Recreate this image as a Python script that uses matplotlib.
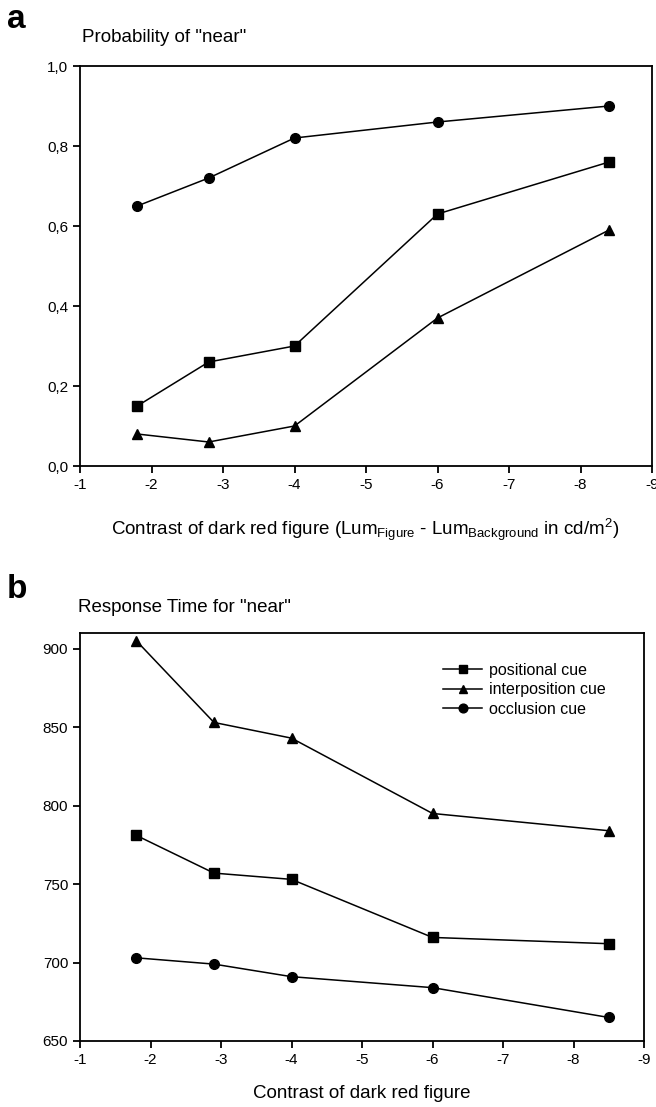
import matplotlib
matplotlib.use('Agg')
import matplotlib.pyplot as plt
import matplotlib.ticker as mtick

plt.rcParams['font.family'] = ['Liberation Sans', 'DejaVu Sans']
plt.rcParams['mathtext.fontset'] = 'custom'
plt.rcParams['mathtext.rm'] = 'Liberation Sans'
plt.rcParams['mathtext.it'] = 'Liberation Sans'
plt.rcParams['axes.unicode_minus'] = False

# Data - panel a (probability of "near")
contrast_a = [-1.8, -2.8, -4.0, -6.0, -8.4]
prob_positional = [0.15, 0.26, 0.30, 0.63, 0.76]
prob_interposition = [0.08, 0.06, 0.10, 0.37, 0.59]
prob_occlusion = [0.65, 0.72, 0.82, 0.86, 0.90]

# Data - panel b (response time)
contrast_b = [-1.8, -2.9, -4.0, -6.0, -8.5]
rt_positional = [781, 757, 753, 716, 712]
rt_interposition = [905, 853, 843, 795, 784]
rt_occlusion = [703, 699, 691, 684, 665]

labels = ['positional cue', 'interposition cue', 'occlusion cue']
markers = ['s', '^', 'o']

W, H = 656, 1107
fig = plt.figure(figsize=(W / 100, H / 100), dpi=100)

def px_axes(left, top, right, bottom):
    return fig.add_axes([left / W, 1 - bottom / H, (right - left) / W, (bottom - top) / H])

def style(ax):
    for s in ax.spines.values():
        s.set_linewidth(1.3)
    ax.tick_params(direction='out', length=5, width=1.3, labelsize=11,
                   top=False, right=False)
    ax.set_xlim(-1, -9)
    ax.set_xticks(range(-1, -10, -1))

line_kw = dict(color='black', lw=1.1, markersize=7)

# Panel a
ax1 = px_axes(80, 66, 652, 466)
for y, m in zip([prob_positional, prob_interposition, prob_occlusion], markers):
    ax1.plot(contrast_a, y, marker=m, clip_on=False, **line_kw)
ax1.set_ylim(0, 1.0)
ax1.set_yticks([0, 0.2, 0.4, 0.6, 0.8, 1.0])
ax1.yaxis.set_major_formatter(mtick.FuncFormatter(lambda v, p: f'{v:.1f}'.replace('.', ',')))
style(ax1)

# Panel b
ax2 = px_axes(80, 633, 644, 1041)
for y, m, lab in zip([rt_positional, rt_interposition, rt_occlusion], markers, labels):
    ax2.plot(contrast_b, y, marker=m, label=lab, clip_on=False, **line_kw)
ax2.set_ylim(650, 910)
ax2.set_yticks([650, 700, 750, 800, 850, 900])
style(ax2)
fig.legend(*ax2.get_legend_handles_labels(), loc='upper left',
           bbox_to_anchor=(443 / W, 1 - 663 / H), bbox_transform=fig.transFigure,
           frameon=False, fontsize=11.5, borderpad=0, borderaxespad=0,
           handlelength=2.45, handletextpad=0.4, labelspacing=0.28, markerscale=0.9)

# Axis labels, panel letters and titles
fig.text(365 / W, 1 - 530 / H,
         'Contrast of dark red figure (Lum$_{\\mathrm{Figure}}$ - Lum$_{\\mathrm{Background}}$ in cd/m$^{2}$)',
         fontsize=13.5, va='center', ha='center')
fig.text(362 / W, 1 - 1094 / H, 'Contrast of dark red figure', fontsize=13.5, va='center', ha='center')
fig.text(7 / W, 1 - 20 / H, 'a', fontsize=24, fontweight='bold', va='center', ha='left')
fig.text(82 / W, 1 - 38 / H, 'Probability of "near"', fontsize=13.5, va='center', ha='left')
fig.text(7 / W, 1 - 589 / H, 'b', fontsize=24, fontweight='bold', va='center', ha='left')
fig.text(78 / W, 1 - 607 / H, 'Response Time for "near"', fontsize=13.5, va='center', ha='left')

fig.savefig('out.png', dpi=100)
